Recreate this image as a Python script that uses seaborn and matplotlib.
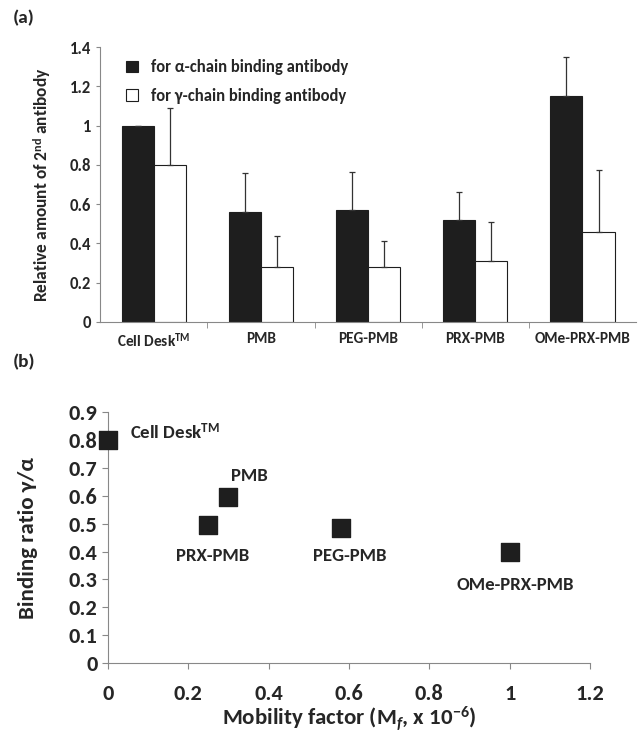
import numpy as np
import pandas as pd
import seaborn as sns
import matplotlib.pyplot as plt

# panel (a) data
surfaces = ["Cell Desk$^{\\mathregular{TM}}$", "PMB", "PEG-PMB", "PRX-PMB", "OMe-PRX-PMB"]
alpha_vals = [1.00, 0.56, 0.57, 0.52, 1.15]
alpha_err = [0.00, 0.20, 0.195, 0.14, 0.20]
gamma_vals = [0.80, 0.28, 0.28, 0.31, 0.46]
gamma_err = [0.29, 0.16, 0.135, 0.20, 0.315]

# panel (b) data
point_names = ["Cell Desk$^{\\mathregular{TM}}$", "PMB", "PRX-PMB", "PEG-PMB", "OMe-PRX-PMB"]
mobility = [0.0, 0.30, 0.25, 0.58, 1.00]
ratio = [0.80, 0.595, 0.495, 0.485, 0.40]

sns.set_style("ticks")
plt.rcParams['font.family'] = ['Carlito', 'DejaVu Sans']
plt.rcParams['font.weight'] = 'bold'
plt.rcParams['axes.labelweight'] = 'bold'
plt.rcParams['mathtext.fontset'] = 'custom'
plt.rcParams['mathtext.rm'] = 'Carlito:bold'
plt.rcParams['mathtext.it'] = 'Carlito:bold:italic'
plt.rcParams['axes.edgecolor'] = '#888888'

labels = ["for \u03b1-chain binding antibody", "for \u03b3-chain binding antibody"]
df = pd.DataFrame({
    "surface": surfaces * 2,
    "value": alpha_vals + gamma_vals,
    "err": alpha_err + gamma_err,
    "antibody": [labels[0]] * 5 + [labels[1]] * 5,
})

fig = plt.figure(figsize=(6.38, 7.36), dpi=100)
ax1 = fig.add_axes([0.157, 0.5625, 0.84, 0.3735])
ax2 = fig.add_axes([0.169, 0.099, 0.756, 0.341])

sns.barplot(data=df, x="surface", y="value", hue="antibody", order=surfaces,
            palette=["#1e1e1e", "white"], width=0.6, edgecolor="#1e1e1e",
            linewidth=0.8, errorbar=None, ax=ax1)

# upward-only error bars, placed from the drawn bars
for bars, errs in zip(ax1.containers, [alpha_err, gamma_err]):
    xs = [b.get_x() + b.get_width() / 2 for b in bars]
    hs = [b.get_height() for b in bars]
    ax1.errorbar(xs, hs, yerr=[np.zeros(len(errs)), errs], fmt='none',
                 ecolor='#333333', elinewidth=0.9, capsize=2.5, capthick=0.9)

ax1.set_ylim(0, 1.4)
ax1.set_xlim(-0.5, 4.5)
ax1.set_yticks(np.arange(0, 1.41, 0.2))
ax1.set_yticklabels(["0", "0.2", "0.4", "0.6", "0.8", "1", "1.2", "1.4"], fontweight='bold')
ax1.tick_params(axis='y', labelsize=12, length=3, color='#888888')
ax1.set_xticks(range(5))
ax1.set_xticklabels(surfaces, fontsize=11, fontweight='bold')
ax1.tick_params(axis='x', length=0, pad=7)
ax1.set_xticks(np.arange(0.5, 4.5, 1), minor=True)
ax1.tick_params(axis='x', which='minor', length=4, color='#888888')
ax1.set_xlabel("")
ax1.set_ylabel("Relative amount of 2$^{\\mathregular{nd}}$ antibody", fontsize=12.5,
               fontweight='bold', labelpad=12)
sns.despine(ax=ax1)
ax1.legend(loc='upper left', bbox_to_anchor=(0.02, 1.01), frameon=False,
           prop={'size': 12, 'weight': 'bold'},
           handlelength=0.7, handleheight=0.7, handletextpad=0.8, labelspacing=0.75)
fig.text(0.02, 0.9755, "(a)", fontsize=14, fontweight='bold', va='center')

# panel (b)
sns.scatterplot(x=mobility, y=ratio, marker='s', s=150, color='#1e1e1e',
                edgecolor='#1e1e1e', ax=ax2, zorder=3, clip_on=False)
offsets = [(16, 6.5), (15, 15), (3, -22), (6, -20), (4, -24)]
for name, x, y, off in zip(point_names, mobility, ratio, offsets):
    ax2.annotate(name, (x, y), xytext=off, textcoords='offset points',
                 fontsize=13.5, fontweight='bold',
                 ha='left' if name.startswith("Cell") else 'center', va='center')
ax2.set_xlim(0, 1.2)
ax2.set_ylim(0, 0.9)
ax2.set_xticks(np.arange(0, 1.21, 0.2))
ax2.set_xticklabels(["0", "0.2", "0.4", "0.6", "0.8", "1", "1.2"], fontweight='bold')
ax2.set_yticks(np.arange(0, 0.91, 0.1))
ax2.set_yticklabels(["0", "0.1", "0.2", "0.3", "0.4", "0.5", "0.6", "0.7", "0.8", "0.9"],
                    fontweight='bold')
ax2.tick_params(axis='both', labelsize=16, length=4, color='#888888')
ax2.tick_params(axis='x', pad=11)
ax2.set_xlabel("Mobility factor (M$_{\\mathit{f}}$, x 10$^{\\mathregular{-6}}$)", fontsize=16.5,
               fontweight='bold', labelpad=0)
ax2.set_ylabel("Binding ratio \u03b3/\u03b1", fontsize=16.5, fontweight='bold', labelpad=22)
sns.despine(ax=ax2)
fig.text(0.02, 0.508, "(b)", fontsize=14, fontweight='bold', va='center')

fig.savefig("out.png", dpi=100)
